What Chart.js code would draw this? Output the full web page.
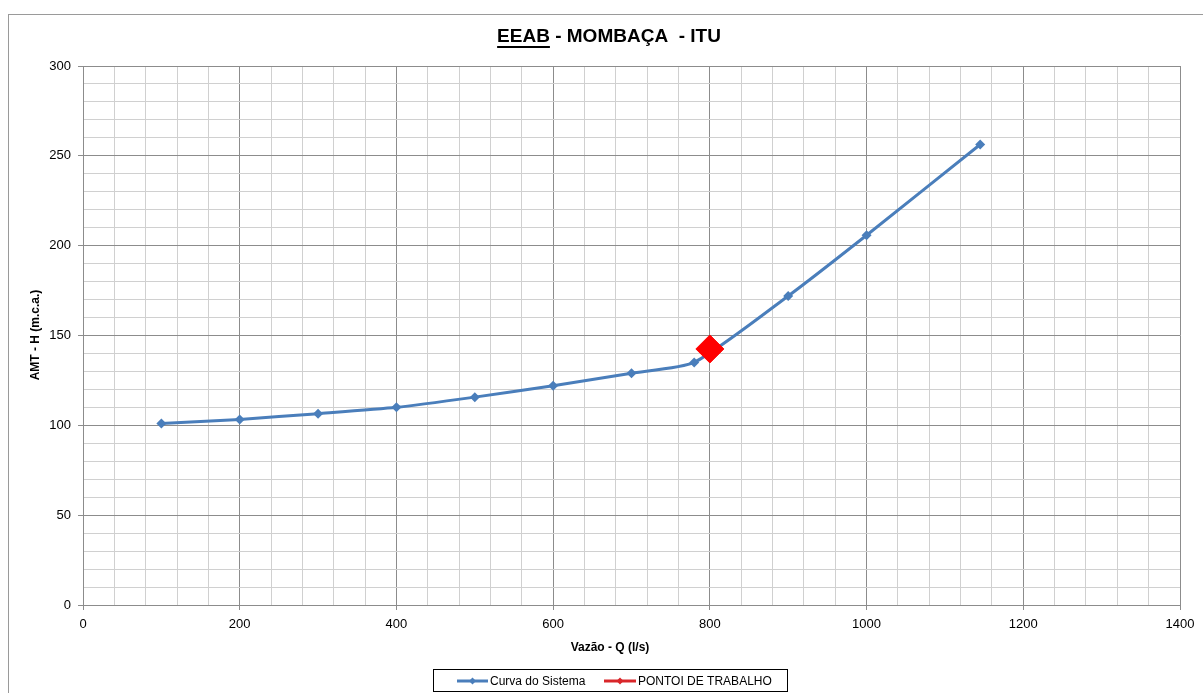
<!DOCTYPE html>
<html>
<head>
<meta charset="utf-8">
<script src="https://cdn.jsdelivr.net/npm/chart.js@4/dist/chart.umd.min.js"></script>
<style>
html,body{margin:0;padding:0;background:#fff;overflow:hidden;}
#frame{position:absolute;left:8px;top:14px;width:1300px;height:800px;border-left:1px solid #9a9a9a;border-top:1px solid #9a9a9a;}
#wrap{position:absolute;left:0;top:0;width:1203px;height:693px;}
</style>
</head>
<body>
<div id="frame"></div>
<div id="wrap"><canvas id="c" width="1203" height="693"></canvas></div>
<script>
const chartTitle = "EEAB - MOMBAÇA - ITU";
const xTitle = "Vazão - Q (l/s)";
const yTitle = "AMT - H (m.c.a.)";
const seriesNames = ["Curva do Sistema", "PONTOI DE TRABALHO"];
const flowQ = [100, 200, 300, 400, 500, 600, 700, 780, 900, 1000, 1145];
const headH = [101, 103.3, 106.5, 110, 115.7, 122, 129, 135, 172, 205.8, 256.3];
const workQ = [800];
const workH = [142.5];

const blue = '#4a7ebb';
const red = '#ff0000';

const overlay = {
  id: 'overlay',
  afterDraw(chart) {
    const ctx = chart.ctx;
    ctx.save();
    // title
    ctx.font = 'bold 19px "Liberation Sans", Arial, sans-serif';
    ctx.fillStyle = '#000';
    ctx.textBaseline = 'middle';
    const p1 = 'EEAB', p2 = ' - MOMBAÇA  - ITU';
    const w1 = ctx.measureText(p1).width, w2 = ctx.measureText(p2).width;
    const cx = 609, ty = 37;
    const x0 = cx - (w1 + w2) / 2;
    ctx.textAlign = 'left';
    ctx.fillText(p1, x0, ty);
    ctx.fillText(p2, x0 + w1, ty);
    ctx.fillRect(x0, ty + 9, w1, 2);
    // axis titles
    ctx.font = 'bold 12px "Liberation Sans", Arial, sans-serif';
    ctx.textAlign = 'center';
    ctx.fillText(xTitle, 610, 648);
    ctx.save();
    ctx.translate(36, 335);
    ctx.rotate(-Math.PI / 2);
    ctx.fillText(yTitle, 0, 0);
    ctx.restore();
    // legend
    ctx.strokeStyle = '#000';
    ctx.lineWidth = 1;
    ctx.strokeRect(433.5, 669.5, 354, 22);
    const ly = 681;
    const drawSample = (xa, xb, col) => {
      ctx.strokeStyle = col;
      ctx.lineWidth = 3;
      ctx.beginPath(); ctx.moveTo(xa, ly); ctx.lineTo(xb, ly); ctx.stroke();
      const m = (xa + xb) / 2;
      ctx.fillStyle = col;
      ctx.beginPath(); ctx.moveTo(m, ly - 3.5); ctx.lineTo(m + 3.5, ly); ctx.lineTo(m, ly + 3.5); ctx.lineTo(m - 3.5, ly); ctx.closePath(); ctx.fill();
    };
    drawSample(457, 488, blue);
    drawSample(604, 636, '#d9262a');
    ctx.fillStyle = '#000';
    ctx.font = '12px "Liberation Sans", Arial, sans-serif';
    ctx.textAlign = 'left';
    ctx.fillText(seriesNames[0], 490, ly + 1);
    ctx.fillText(seriesNames[1], 638, ly + 1);
    ctx.restore();
  }
};

new Chart(document.getElementById('c'), {
  type: 'scatter',
  data: {
    datasets: [
      {
        label: seriesNames[1],
        data: workQ.map((q, i) => ({x: q, y: workH[i]})),
        showLine: false,
        pointStyle: 'rectRot',
        pointRadius: 14,
        backgroundColor: red,
        borderColor: red,
        borderWidth: 1,
        order: 0
      },
      {
        label: seriesNames[0],
        data: flowQ.map((q, i) => ({x: q, y: headH[i]})),
        showLine: true,
        borderColor: blue,
        backgroundColor: blue,
        borderWidth: 3,
        tension: 0.2,
        pointStyle: 'rectRot',
        pointRadius: 5,
        pointBorderWidth: 0,
        order: 1
      }
    ]
  },
  plugins: [overlay],
  options: {
    responsive: false,
    animation: false,
    devicePixelRatio: 1,
    layout: { padding: { left: 0, top: 66, right: 23, bottom: 0 } },
    plugins: { legend: { display: false }, title: { display: false }, tooltip: { enabled: false } },
    scales: {
      x: {
        type: 'linear', min: 0, max: 1400,
        afterFit(s) { s.height = 88; },
        ticks: {
          stepSize: 40, autoSkip: false, maxRotation: 0,
          color: '#000', font: { family: '"Liberation Sans", Arial, sans-serif', size: 13 },
          padding: 7,
          callback: v => (v % 200 === 0 ? String(v) : '')
        },
        grid: {
          color: c => (c.tick && c.tick.value % 200 === 0 ? '#8c8c8c' : '#d0d0d0'),
          tickColor: c => (c.tick && c.tick.value % 200 === 0 ? '#8c8c8c' : 'rgba(0,0,0,0)'),
          tickLength: 5, lineWidth: 1
        },
        border: { color: '#8c8c8c' }
      },
      y: {
        min: 0, max: 300,
        afterFit(s) { s.width = 83; },
        ticks: {
          stepSize: 10, autoSkip: false,
          color: '#000', font: { family: '"Liberation Sans", Arial, sans-serif', size: 13 },
          padding: 7,
          callback: v => (v % 50 === 0 ? String(v) : '')
        },
        grid: {
          color: c => (c.tick && c.tick.value % 50 === 0 ? '#8c8c8c' : '#d0d0d0'),
          tickColor: c => (c.tick && c.tick.value % 50 === 0 ? '#8c8c8c' : 'rgba(0,0,0,0)'),
          tickLength: 5, lineWidth: 1
        },
        border: { color: '#8c8c8c' }
      }
    }
  }
});
</script>
</body>
</html>
